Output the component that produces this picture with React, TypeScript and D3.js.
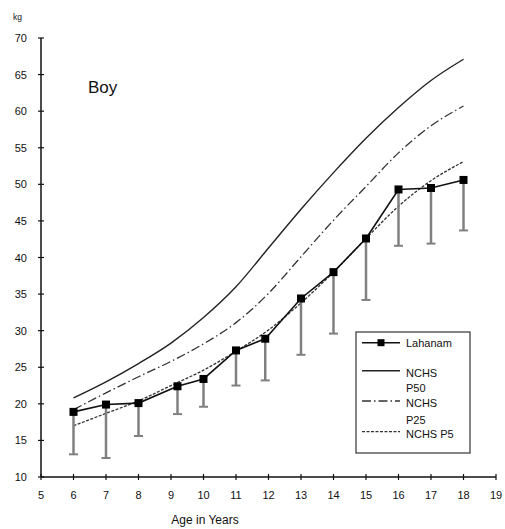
import React from "react";
import * as d3 from "d3";

// Ages (years) for the NCHS reference curves
const nchsAges = [6, 7, 8, 9, 10, 11, 12, 13, 14, 15, 16, 17, 18];
const nchsP50 = [20.8, 23.0, 25.5, 28.3, 31.8, 36.0, 41.3, 46.6, 51.6, 56.3, 60.5, 64.2, 67.1];
const nchsP25 = [19.2, 21.5, 23.7, 25.8, 28.2, 31.1, 35.1, 40.1, 45.1, 49.7, 54.3, 58.0, 60.7];
const nchsP5 = [17.0, 18.7, 20.4, 22.5, 24.6, 27.2, 30.1, 33.8, 38.0, 42.6, 47.0, 50.5, 53.1];

// Lahanam sample: mean weight and lower whisker (mean - SD)
const lahanamAges = [6, 7, 8, 9.2, 10, 11, 11.9, 13, 14, 15, 16, 17, 18];
const lahanamMean = [18.9, 19.9, 20.1, 22.4, 23.4, 27.3, 28.9, 34.4, 38.0, 42.6, 49.3, 49.5, 50.6];
const lahanamLower = [13.1, 12.6, 15.6, 18.6, 19.6, 22.5, 23.2, 26.7, 29.6, 34.2, 41.6, 41.9, 43.7];

const xTicks = [5, 6, 7, 8, 9, 10, 11, 12, 13, 14, 15, 16, 17, 18, 19];
const yTicks = [10, 15, 20, 25, 30, 35, 40, 45, 50, 55, 60, 65, 70];

const W = 505;
const H = 529;
const FONT = "'Liberation Sans', Arial, sans-serif";
const TEXT = "#111";

export default function App() {
  const x = d3.scaleLinear().domain([5, 19]).range([41, 496]);
  const y = d3.scaleLinear().domain([10, 70]).range([477, 38]);

  const curve = (vals: number[]) =>
    d3
      .line<number>()
      .x((_, i) => x(nchsAges[i]))
      .y((v) => y(v))
      .curve(d3.curveMonotoneX)(vals) as string;

  const lahanamLine = d3
    .line<number>()
    .x((_, i) => x(lahanamAges[i]))
    .y((v) => y(v))(lahanamMean) as string;

  const [x0, x1] = x.range();
  const [y0, y1] = y.range();

  // Legend geometry
  const lg = { x: 356, y: 332, w: 114, h: 121 };
  const lineX0 = 362;
  const lineX1 = 400;
  const textX = 406;

  return (
    <svg
      width={W}
      height={H}
      style={{ position: "absolute", left: 0, top: 0, background: "#fff" }}
      fontFamily={FONT}
    >
      <rect x={0} y={0} width={W} height={H} fill="#fff" />

      {/* NCHS reference curves */}
      <path d={curve(nchsP50)} fill="none" stroke="#222" strokeWidth={1.4} />
      <path
        d={curve(nchsP25)}
        fill="none"
        stroke="#333"
        strokeWidth={1.3}
        strokeDasharray="9,3,1.5,3"
      />
      <path
        d={curve(nchsP5)}
        fill="none"
        stroke="#333"
        strokeWidth={1.3}
        strokeDasharray="3,1.5"
      />

      {/* Lahanam lower whiskers */}
      {lahanamAges.map((a, i) => (
        <g key={`eb${i}`} stroke="#808080" strokeWidth={2.5}>
          <line x1={x(a)} x2={x(a)} y1={y(lahanamMean[i])} y2={y(lahanamLower[i])} />
          <line x1={x(a) - 4.5} x2={x(a) + 4.5} y1={y(lahanamLower[i])} y2={y(lahanamLower[i])} strokeWidth={2} />
        </g>
      ))}

      {/* Lahanam means */}
      <path d={lahanamLine} fill="none" stroke="#111" strokeWidth={1.6} />
      {lahanamAges.map((a, i) => (
        <rect
          key={`pt${i}`}
          x={x(a) - 4}
          y={y(lahanamMean[i]) - 4}
          width={8}
          height={8}
          fill="#000"
        />
      ))}

      {/* Axes */}
      <line x1={x0} x2={x0} y1={y1} y2={y0} stroke="#111" strokeWidth={1.5} />
      <line x1={x0} x2={x1} y1={y0} y2={y0} stroke="#111" strokeWidth={1.5} />
      {yTicks.map((t) => (
        <g key={`yt${t}`}>
          <line x1={x0 - 3} x2={x0 + 3} y1={y(t)} y2={y(t)} stroke="#111" strokeWidth={1.2} />
          <text
            x={27}
            y={y(t)}
            textAnchor="end"
            dominantBaseline="central"
            fontSize={11}
            fill={TEXT}
          >
            {t}
          </text>
        </g>
      ))}
      {xTicks.map((t) => (
        <g key={`xt${t}`}>
          <line x1={x(t)} x2={x(t)} y1={y0 - 3} y2={y0 + 3} stroke="#111" strokeWidth={1.2} />
          <text
            x={x(t)}
            y={495}
            textAnchor="middle"
            dominantBaseline="central"
            fontSize={11}
            fill={TEXT}
          >
            {t}
          </text>
        </g>
      ))}

      <text x={13} y={20} fontSize={8.5} fill={TEXT}>
        kg
      </text>
      <text x={205} y={524} textAnchor="middle" fontSize={12} fill={TEXT}>
        Age in Years
      </text>
      <text x={88} y={93} fontSize={17} fill="#111">
        Boy
      </text>

      {/* Legend */}
      <rect x={lg.x} y={lg.y} width={lg.w} height={lg.h} fill="#fff" stroke="#333" strokeWidth={1.2} />
      <line x1={lineX0} x2={lineX1} y1={342.7} y2={342.7} stroke="#111" strokeWidth={1.6} />
      <rect x={(lineX0 + lineX1) / 2 - 3.5} y={342.7 - 3.5} width={7} height={7} fill="#000" />
      <text x={textX} y={343} dominantBaseline="central" fontSize={11} fill={TEXT}>
        Lahanam
      </text>

      <line x1={lineX0} x2={lineX1} y1={370.7} y2={370.7} stroke="#222" strokeWidth={1.4} />
      <text x={textX} y={373} dominantBaseline="central" fontSize={11} fill={TEXT}>
        NCHS
      </text>
      <text x={textX} y={388} dominantBaseline="central" fontSize={11} fill={TEXT}>
        P50
      </text>

      <line
        x1={lineX0}
        x2={lineX1}
        y1={401}
        y2={401}
        stroke="#333"
        strokeWidth={1.3}
        strokeDasharray="9,3,1.5,3"
      />
      <text x={textX} y={403} dominantBaseline="central" fontSize={11} fill={TEXT}>
        NCHS
      </text>
      <text x={textX} y={420} dominantBaseline="central" fontSize={11} fill={TEXT}>
        P25
      </text>

      <line
        x1={lineX0}
        x2={lineX1}
        y1={431.7}
        y2={431.7}
        stroke="#333"
        strokeWidth={1.3}
        strokeDasharray="3,1.5"
      />
      <text x={textX} y={434} dominantBaseline="central" fontSize={11} fill={TEXT}>
        NCHS P5
      </text>
    </svg>
  );
}
